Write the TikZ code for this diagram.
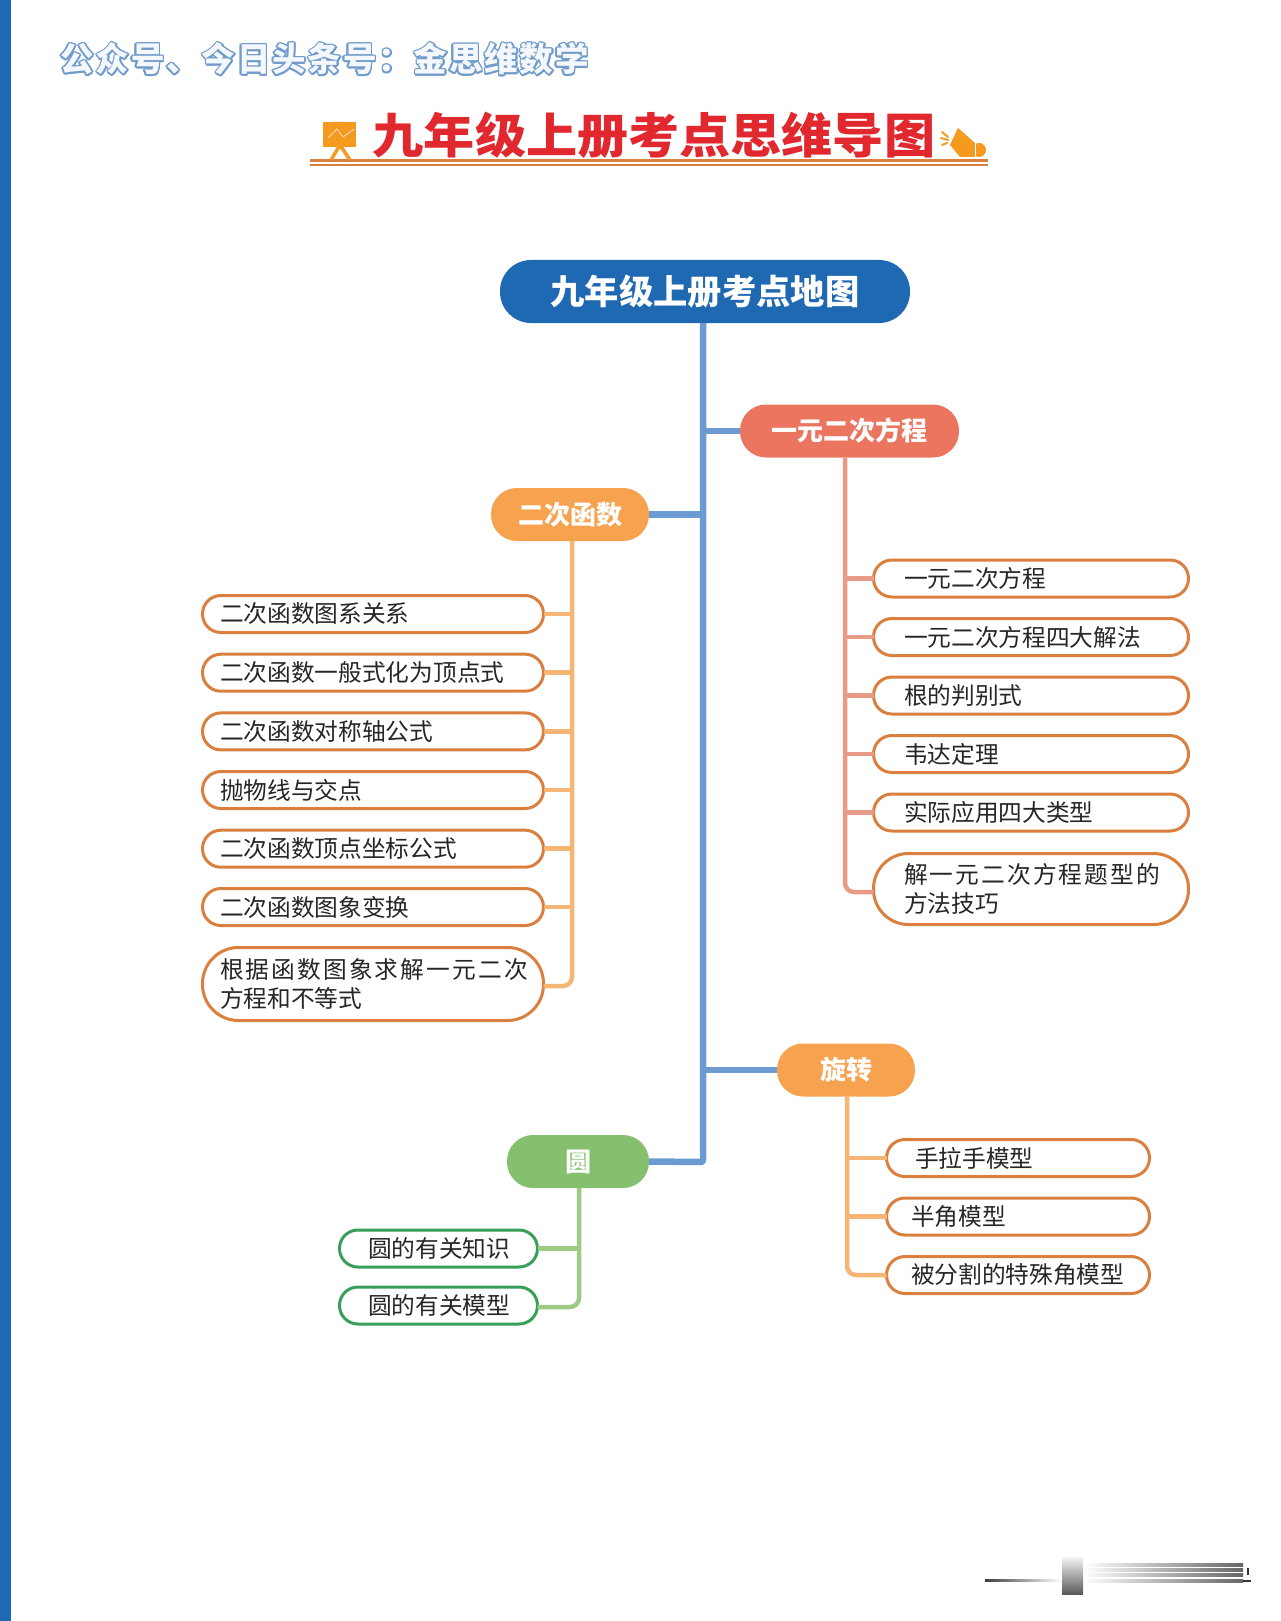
\documentclass[tikz,border=0pt]{standalone}
\usepackage{fontspec}
\setmainfont{Noto Sans CJK SC}
\newfontfamily\cjkwide[LetterSpace=9]{Noto Sans CJK SC}
\newfontfamily\cjkmark[LetterSpace=5.5]{Noto Sans CJK SC}
\definecolor{stripblue}{HTML}{1F69B3}
\definecolor{spineblue}{HTML}{6C9BD2}
\definecolor{redhead}{HTML}{EC7560}
\definecolor{redtrunk}{HTML}{E99B88}
\definecolor{orangehead}{HTML}{F7A24F}
\definecolor{orangetrunk}{HTML}{F4B575}
\definecolor{greenhead}{HTML}{85C06E}
\definecolor{greentrunk}{HTML}{9BCB85}
\definecolor{leafgreen}{HTML}{3A9E5B}
\definecolor{leaforange}{HTML}{DB7F3E}
\definecolor{titlered}{HTML}{E0282E}
\definecolor{iconorange}{HTML}{F39A1F}
\definecolor{linkblue}{HTML}{6F9BCB}
\tikzset{
	rootbox/.style={fill=stripblue,text=white,font=\bfseries\fontsize{34.3}{40}\selectfont,rounded corners=31pt,minimum width=410pt,minimum height=63pt,inner sep=0pt,outer sep=0pt},
	headbox/.style={fill=#1,text=white,font=\bfseries\fontsize{26}{32}\selectfont,rounded corners=26pt,minimum height=53pt,inner sep=0pt,outer sep=0pt},
	leafbox/.style={draw=#1,line width=3pt,fill=white,text=black!85,font=\fontsize{23.7}{29}\selectfont,rounded corners=18.4pt,minimum height=37pt,inner ysep=0pt,outer sep=0pt,align=left,anchor=west},
	markfont/.style={font=\cjkmark\bfseries\fontsize{33.5}{40}\selectfont, anchor=west},
	spine/.style={spineblue,line width=6.5pt},
	trunk/.style={#1,line width=4.5pt,rounded corners=9pt},
}
\begin{document}
\begin{tikzpicture}[x=1pt, y=-1pt, line join=round]
	\useasboundingbox (0,0) rectangle (1280,1621);
	\fill[stripblue] (0,0) rectangle (11,1621);
	% dong chu tren cung
	\foreach \g in {0,30,...,330}
		\node[text=linkblue, markfont] at ([shift={(\g:1.6)}]57,59) {公众号、今日头条号：金思维数学};
	\node[text=white!92!linkblue, markfont] (wm) at (57,59) {公众号、今日头条号：金思维数学};
	\node[text=titlered, font=\bfseries\fontsize{48}{50}\selectfont, anchor=center, xscale=1.065, transform shape] (title) at (654,135) {九年级上册考点思维导图};
	\draw[leaforange, line width=2.5pt] (310,160.5)--(988,160.5);
	\draw[leaforange, line width=1.4pt] (310,165)--(988,165);
	% bieu tuong
	\fill[iconorange] (323,122) rectangle (356,147);
	\fill[iconorange] (333,122) arc (180:0:6.5 and 3);
	\draw[white!70!iconorange, line width=.8pt] (328,138)--(337,129)--(343,137)--(354,129);
	\draw[iconorange, line width=3.5pt] (340,145)--(331,160) (340,145)--(350,160);
	\fill[iconorange] (958,128)--(975,143)--(975,157)--(960,157)--(950,145)--cycle;
	\fill[iconorange] (979,150) circle (7);
	\draw[white, line width=.8pt] (975,143)--(975,157);
	\draw[iconorange, line width=2pt, line cap=round] (942,132)--(948,137) (941,138)--(948,140) (942,145)--(947,143);
	% goc tren
	\node[rootbox] (root) at (705,291.5) {九年级上册考点地图};
	\node[headbox=redhead, minimum width=219pt] (eqn) at (849.5,431) {一元二次方程};
	\node[headbox=orangehead, minimum width=158pt] (func) at (570,514.5) {二次函数};
	\node[headbox=orangehead, minimum width=138pt] (rot) at (846,1070) {旋转};
	\node[headbox=greenhead, minimum width=142pt] (circ) at (578,1161.5) {圆};
	\coordinate (stop) at (703,323);
	\coordinate (sbot) at (703,1162);
	\draw[spine, rounded corners=2pt] (stop)--(sbot)--(circ.east);
	\draw[spine] (stop |- eqn)--(eqn.west);
	\draw[spine] (stop |- func)--(func.east);
	\draw[spine] (stop |- rot)--(rot.west);
	% ham so bac hai
	\foreach \y/\name/\txt in {614/fa/二次函数图系关系,672.7/fb/二次函数一般式化为顶点式,731.4/fc/二次函数对称轴公式,790/fd/抛物线与交点,848.7/fe/二次函数顶点坐标公式,907/ff/二次函数图象变换}{
		\node[leafbox=leaforange, text width=306pt, inner xsep=17.5pt] (\name) at (202.5,\y) {\txt};
		\draw[orangetrunk, line width=4.5pt] (\name.east)--(572,\y);
	}
	\node[leafbox=leaforange, text width=306pt, inner xsep=17.5pt, rounded corners=36pt, minimum height=73pt] (fg) at (202.5,984) {{\cjkwide 根据函数图象求解一元二次}\\方程和不等式};
	\coordinate (fturn) at (572,986);
	\draw[trunk=orangetrunk] (func.south -| fturn)--(fturn)--(fg.east |- fturn);
	% phuong trinh
	\foreach \y/\name/\txt in {578.5/ea/一元二次方程,637/eb/一元二次方程四大解法,695.5/ec/根的判别式,754/ed/韦达定理,812.5/ee/实际应用四大类型}{
		\node[leafbox=leaforange, text width=254pt, inner xsep=30.5pt] (\name) at (873.5,\y) {\txt};
		\draw[redtrunk, line width=4.5pt] (\name.west)--(845,\y);
	}
	\node[leafbox=leaforange, text width=254pt, inner xsep=30.5pt, rounded corners=35pt, minimum height=71pt] (ef) at (873.5,889) {{\cjkwide 解一元二次方程题型的}\\方法技巧};
	\coordinate (eturn) at (845,892);
	\draw[trunk=redtrunk] (eqn.south -| eturn)--(eturn)--(ef.west |- eturn);
	% phep quay
	\foreach \y/\name/\xs/\txt in {1158/ra/28.5/手拉手模型,1216.5/rb/24.5/半角模型,1275/rc/24.5/被分割的特殊角模型}{
		\pgfmathsetmacro{\tw}{263-2*\xs}
		\node[leafbox=leaforange, text width=\tw pt, inner xsep=\xs pt] (\name) at (886.5,\y) {\txt};
	}
	\coordinate (rturn) at (847,1275);
	\draw[orangetrunk, line width=4.5pt] (ra.west)--(rturn |- ra);
	\draw[orangetrunk, line width=4.5pt] (rb.west)--(rturn |- rb);
	\draw[trunk=orangetrunk] (rot.south -| rturn)--(rturn)--(rc.west);
	% duong tron
	\foreach \y/\name/\txt in {1248.5/ca/圆的有关知识,1305.5/cb/圆的有关模型}
		\node[leafbox=leafgreen, text width=141pt, inner xsep=28.5pt] (\name) at (339.5,\y) {\txt};
	\coordinate (cturn) at (579,1307);
	\draw[greentrunk, line width=4.5pt] (ca.east)--(cturn |- ca);
	\draw[trunk=greentrunk] (circ.south -| cturn)--(cturn)--(cb.east |- cturn);
	% vet mo
	\shade[left color=black!75, middle color=black!12, right color=white] (985,1579) rectangle (1062,1581.5);
	\foreach \y in {1565,1570,1575,1581}
		\shade[left color=white, middle color=black!6, right color=black!60] (1083,\y-1.2) rectangle (1243,\y+1.2);
	\shade[top color=black!4, bottom color=black!65] (1062,1557) rectangle (1083,1594);
	\fill[black!80] (1243,1579.5) rectangle (1251,1581.5);
	\fill[black!80] (1247,1568) rectangle (1249,1575);
\end{tikzpicture}
\end{document}
